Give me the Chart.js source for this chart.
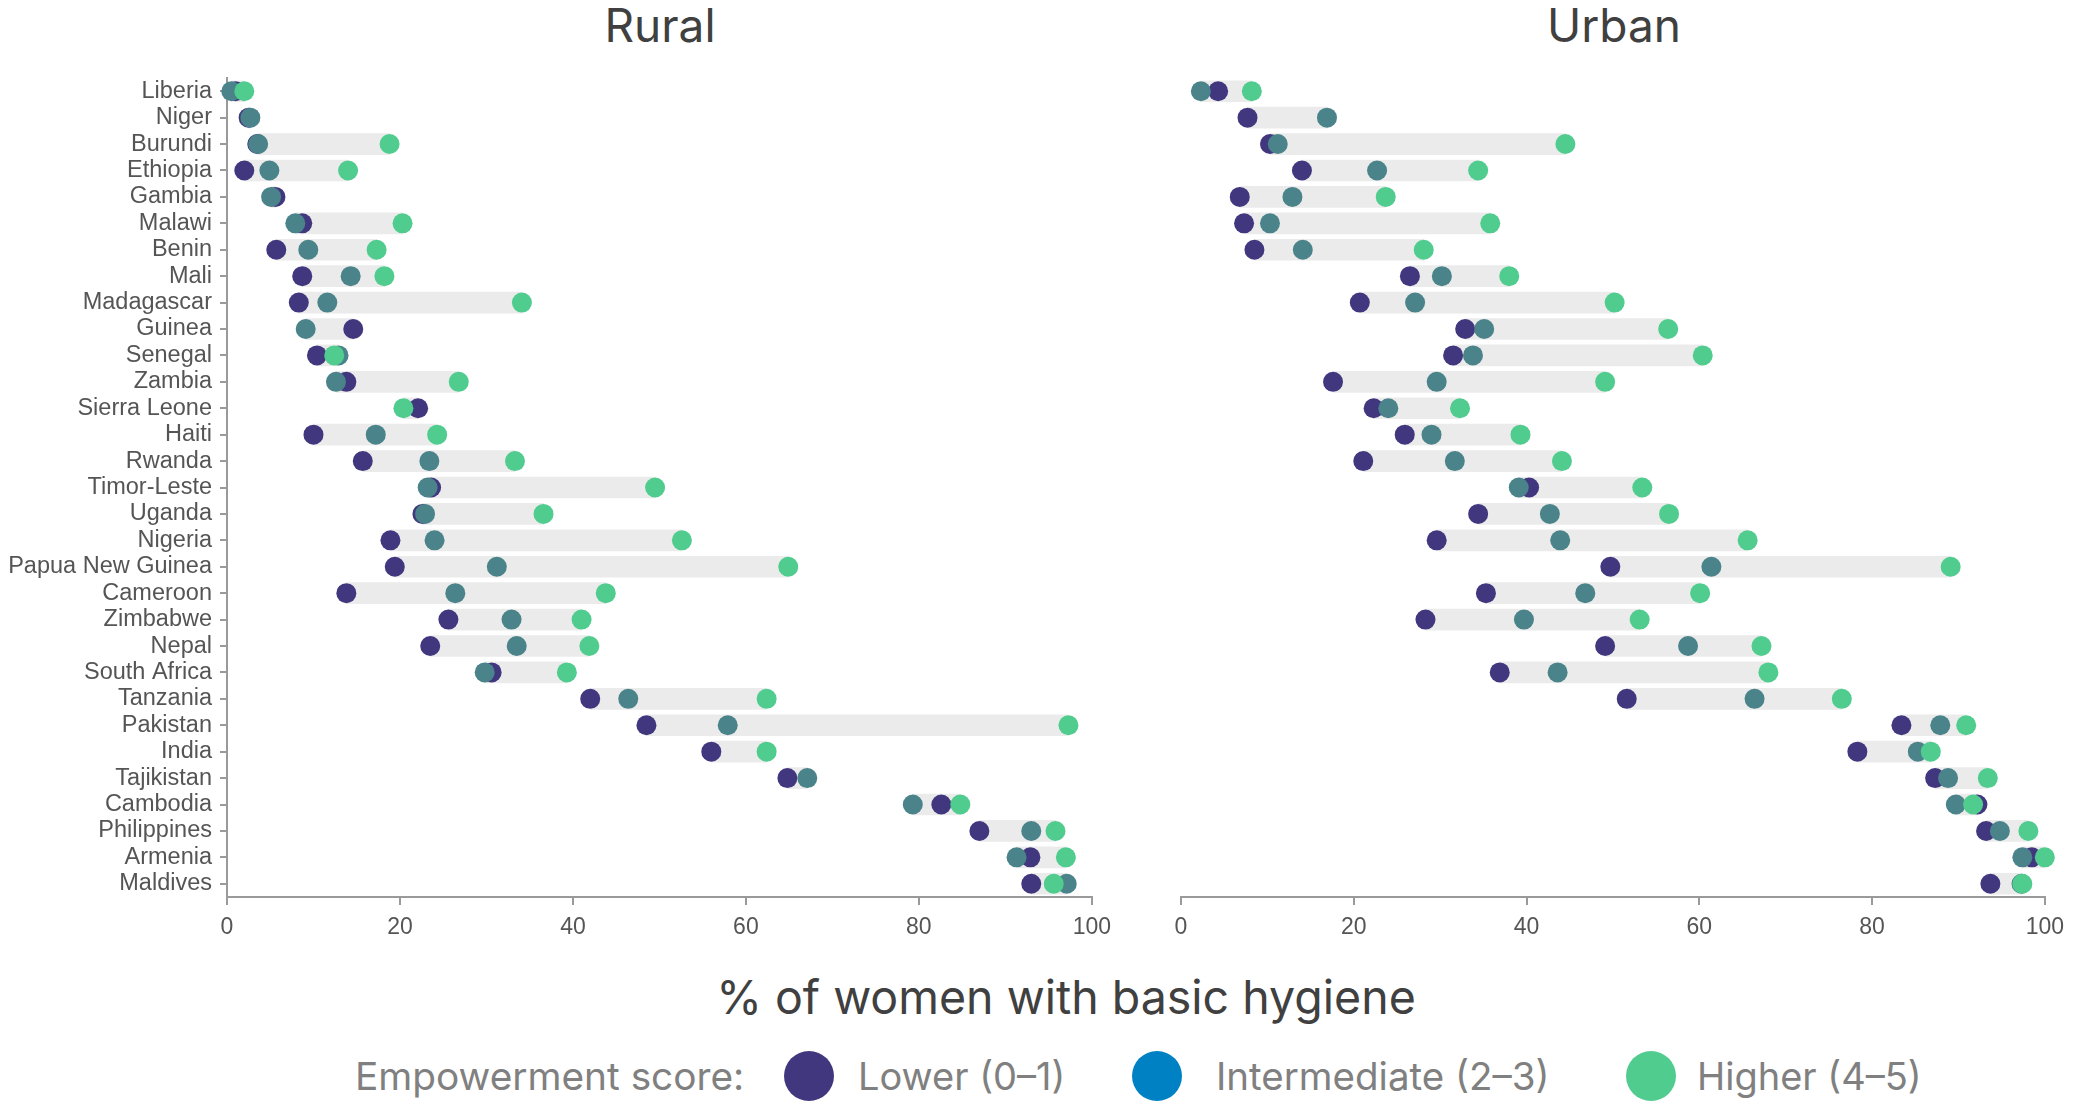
<!DOCTYPE html>
<html>
<head>
<meta charset="utf-8">
<title>Hygiene by empowerment score</title>
<script src="https://cdn.jsdelivr.net/npm/chart.js@4.4.1/dist/chart.umd.min.js"></script>
<style>
  body { margin: 0; background: #fff; width: 2073px; height: 1105px; position: relative; overflow: hidden; font-family: Inter, "Open Sans", sans-serif; }
  canvas { position: absolute; top: 0; }
  #rural { left: 0; }
  #urban { left: 1100px; }
  .panel-title { position: absolute; top: 0; line-height: 50px; font-size: 46px; color: #404040; transform: translateX(-50%); white-space: nowrap; }
  .axis-title { position: absolute; top: 972px; left: 1066px; line-height: 50px; font-size: 46.5px; color: #404040; transform: translateX(-50%); white-space: nowrap; }
  .legend { position: absolute; top: 1051px; height: 50px; line-height: 50px; font-size: 38px; color: #808080; white-space: nowrap; }
  .dot { position: absolute; top: 1051px; width: 50px; height: 50px; border-radius: 50%; }
</style>
</head>
<body>

<div class="panel-title" style="left:660px">Rural</div>
<div class="panel-title" style="left:1614px">Urban</div>
<canvas id="rural" width="1120" height="960"></canvas>
<canvas id="urban" width="973" height="960"></canvas>
<div class="axis-title">% of women with basic hygiene</div>

<div class="legend" style="left:355px;font-size:38.8px">Empowerment score:</div>
<div class="dot" style="left:784px;background:#41377f"></div>
<div class="legend" style="left:858px">Lower (0–1)</div>
<div class="dot" style="left:1132px;background:#0081c3"></div>
<div class="legend" style="left:1216px;font-size:38.5px">Intermediate (2–3)</div>
<div class="dot" style="left:1626px;background:#50cc8f"></div>
<div class="legend" style="left:1697px">Higher (4–5)</div>

<script>
"use strict";

// Countries, top to bottom
const countries = ["Liberia", "Niger", "Burundi", "Ethiopia", "Gambia", "Malawi", "Benin", "Mali",
    "Madagascar", "Guinea", "Senegal", "Zambia", "Sierra Leone", "Haiti", "Rwanda", "Timor-Leste",
    "Uganda", "Nigeria", "Papua New Guinea", "Cameroon", "Zimbabwe", "Nepal", "South Africa",
    "Tanzania", "Pakistan", "India", "Tajikistan", "Cambodia", "Philippines", "Armenia", "Maldives"];

// Rural (% of women with basic hygiene)
const ruralLower  = [1.0, 2.5, 3.5, 2.0, 5.6, 8.7, 5.7, 8.7, 8.3, 14.6, 10.4, 13.8, 22.1, 10.0, 15.7, 23.6,
    22.6, 18.9, 19.4, 13.8, 25.6, 23.5, 30.6, 42.0, 48.5, 56.0, 64.8, 82.6, 87.0, 92.9, 93.0];
const ruralInter  = [0.5, 2.7, 3.6, 4.9, 5.1, 7.9, 9.4, 14.3, 11.6, 9.1, 12.9, 12.6, null, 17.2, 23.4, 23.2,
    22.9, 24.0, 31.2, 26.4, 32.9, 33.5, 29.8, 46.4, 57.9, null, 67.1, 79.3, 93.0, 91.3, 97.1];
const ruralHigher = [2.0, null, 18.8, 14.0, null, 20.3, 17.3, 18.2, 34.1, null, 12.4, 26.8, 20.4, 24.3, 33.3, 49.5,
    36.6, 52.6, 64.9, 43.8, 41.0, 41.9, 39.3, 62.4, 97.3, 62.4, null, 84.8, 95.8, 97.0, 95.6];

// Urban
const urbanLower  = [4.3, 7.7, 10.3, 14.0, 6.8, 7.3, 8.5, 26.5, 20.7, 32.9, 31.5, 17.6, 22.3, 25.9, 21.1, 40.3,
    34.4, 29.6, 49.7, 35.3, 28.3, 49.1, 36.9, 51.6, 83.4, 78.3, 87.3, 92.2, 93.2, 98.5, 93.7];
const urbanInter  = [2.3, 16.9, 11.2, 22.7, 12.9, 10.3, 14.1, 30.2, 27.1, 35.1, 33.8, 29.6, 24.0, 29.0, 31.7, 39.1,
    42.7, 43.9, 61.4, 46.8, 39.7, 58.7, 43.6, 66.4, 87.9, 85.3, 88.8, 89.7, 94.8, 97.4, 97.3];
const urbanHigher = [8.2, null, 44.5, 34.4, 23.7, 35.8, 28.1, 38.0, 50.2, 56.4, 60.4, 49.1, 32.3, 39.3, 44.1, 53.4,
    56.5, 65.6, 89.1, 60.1, 53.1, 67.2, 68.0, 76.5, 90.9, 86.8, 93.4, 91.7, 98.1, 100.0, 97.4];

const xTicks = [0, 20, 40, 60, 80, 100];

const axisGrey = "#9a9a9a";

// grey bar spans the lowest to the highest dot of each country
let rangeOf = (a, b, c) => countries.map((_, i) => {
    let vals = [a[i], b[i], c[i]].filter(v => v !== null);
    return [Math.min(...vals), Math.max(...vals)];
});

let dots = (label, data, color, order) => ({
    type: "line",
    label: label,
    data: data,
    indexAxis: "y",
    showLine: false,
    pointRadius: 10,
    pointHoverRadius: 10,
    pointBorderWidth: 0,
    pointBackgroundColor: color,
    borderColor: color,
    backgroundColor: color,
    order: order,
    clip: false
});

let makeChart = (id, lower, inter, higher, showLabels, padLeft, padRight) => {
    let ctx = document.getElementById(id);
    return new Chart(ctx, {
        type: "bar",
        data: {
            labels: countries,
            datasets: [
                {
                    type: "bar",
                    data: rangeOf(lower, inter, higher),
                    indexAxis: "y",
                    backgroundColor: "#ebebeb",
                    barThickness: 21,
                    borderSkipped: false,
                    order: 4
                },
                dots("Lower (0–1)", lower, "#41377f", 3),
                dots("Intermediate (2–3)", inter, "#4a8389", 2),
                dots("Higher (4–5)", higher, "#50cc8f", 1)
            ]
        },
        options: {
            indexAxis: "y",
            responsive: false,
            animation: false,
            events: [],
            layout: { padding: { top: 78, left: padLeft, right: padRight, bottom: 13 } },
            plugins: { legend: { display: false }, tooltip: { enabled: false } },
            scales: {
                x: {
                    type: "linear",
                    min: 0,
                    max: 100,
                    afterBuildTicks: s => { s.ticks = xTicks.map(v => ({ value: v })); },
                    ticks: { color: "#555", font: { family: "Liberation Sans", size: 23 }, padding: 9 },
                    grid: { drawOnChartArea: false, drawTicks: true, tickLength: 8, color: axisGrey, lineWidth: 2 },
                    border: { color: axisGrey, width: 2 },
                    afterFit: s => { s.height = 50; }
                },
                y: {
                    display: showLabels,
                    ticks: { color: "#555", font: { family: "Liberation Sans", size: 23.5 }, padding: 8, autoSkip: false },
                    grid: { offset: false, drawOnChartArea: false, drawTicks: true, tickLength: 7, color: axisGrey, lineWidth: 2 },
                    border: { color: axisGrey, width: 2 },
                    afterFit: s => { s.width = showLabels ? 227 : 0; }
                }
            }
        }
    });
};

window.addEventListener("DOMContentLoaded", () => {
    makeChart("rural", ruralLower, ruralInter, ruralHigher, true, 0, 23);
    makeChart("urban", urbanLower, urbanInter, urbanHigher, false, 81, 22);
});
</script>
</body>
</html>
